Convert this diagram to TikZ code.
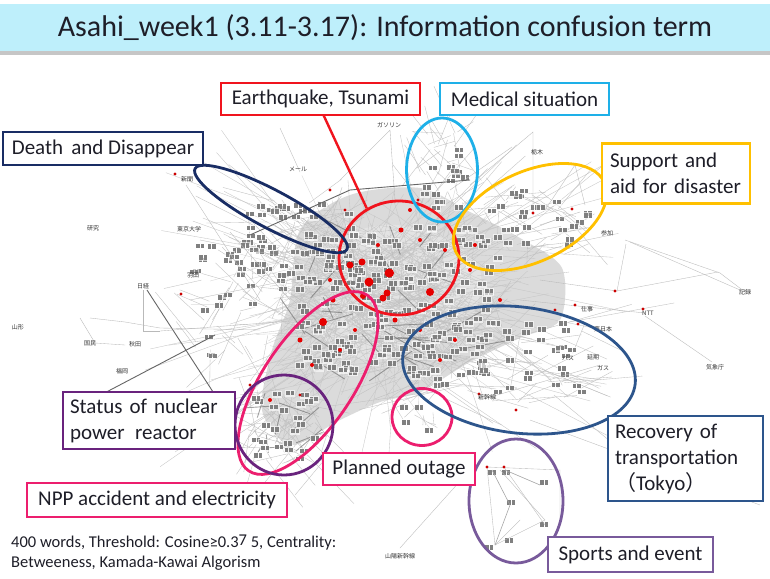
\documentclass[tikz,border=0pt]{standalone}
\usepackage{fontspec}
\setmainfont{Carlito}
\newfontfamily\cjk{Noto Sans CJK JP}
\usetikzlibrary{shapes.geometric,calc}
\definecolor{titlebg}{RGB}{190,239,251}
\definecolor{eqred}{RGB}{240,20,30}
\definecolor{medcyan}{RGB}{30,176,232}
\definecolor{navy}{RGB}{25,45,100}
\definecolor{gold}{RGB}{255,192,0}
\definecolor{nucpur}{RGB}{105,35,125}
\definecolor{pinkc}{RGB}{236,30,110}
\definecolor{recblue}{RGB}{45,85,140}
\definecolor{sppur}{RGB}{120,90,155}
\definecolor{txt}{RGB}{30,30,40}
\begin{document}
\begin{tikzpicture}[x=1pt,y=-1pt,
 lbl/.style={draw,line width=2.4pt,fill=white,inner sep=0pt,font=\fontsize{21}{26}\selectfont,text=txt},
 ring/.style={ellipse,draw,line width=2.8pt,inner sep=0pt},
 jp/.style={font=\cjk\fontsize{6}{7}\selectfont,text=black!80,inner sep=0.5pt},
 net/.style={gray!55,line width=0.35pt},
 darknet/.style={gray!80!black,line width=0.9pt}]
\useasboundingbox (0,0) rectangle (770,578);
\fill[white] (0,0) rectangle (770,578);
% title bar
\fill[gray!45] (0,51) rectangle (770,55);
\node[rectangle,fill=titlebg,minimum width=770pt,minimum height=47pt,anchor=north west,inner sep=0pt] (title) at (0,4) {};
\node[font=\fontsize{30}{33}\selectfont,text=txt] (ttext) at (385,28) {Asahi\_week1 (3.11-3.17): Information confusion term};
% network texture
\begin{scope}
\clip (0,60) rectangle (770,578);
\fill[gray!28] plot[smooth cycle] coordinates {(300,230) (350,195) (420,188) (470,212) (520,238) (562,268) (560,320) (520,338) (470,362) (420,392) (380,402) (340,420) (290,445) (262,410) (272,350) (290,300)};
\fill[gray!22] plot[smooth cycle] coordinates {(330,250) (380,225) (440,235) (480,270) (470,320) (420,350) (360,360) (320,330)};
\pgfmathsetseed{12345}
\foreach \i in {1,...,450}{
 \pgfmathsetmacro\ax{390+70*rand+40*rand}
 \pgfmathsetmacro\ay{300+50*rand+35*rand}
 \pgfmathsetmacro\bx{\ax+80*rand}
 \pgfmathsetmacro\by{\ay+60*rand}
 \draw[net,opacity=0.6] (\ax,\ay) -- (\bx,\by);
}
\foreach \i in {1,...,110}{
 \pgfmathsetmacro\ax{390+60*rand}
 \pgfmathsetmacro\ay{300+60*rand}
 \pgfmathsetmacro\bx{390+250*rand}
 \pgfmathsetmacro\by{300+170*rand}
 \draw[gray!45,line width=0.35pt] (\ax,\ay) -- (\bx,\by);
}
% local clusters of lines
\foreach \cx/\cy/\sx/\sy/\n in {290/250/60/50/50, 284/425/38/38/70, 500/360/85/40/60, 535/220/55/30/40, 440/170/25/40/30, 230/320/40/40/25, 422/417/20/18/8}{
 \foreach \i in {1,...,\n}{
  \pgfmathsetmacro\ax{\cx+\sx*rand}
  \pgfmathsetmacro\ay{\cy+\sy*rand}
  \pgfmathsetmacro\bx{\ax+1.3*\sx*rand}
  \pgfmathsetmacro\by{\ay+1.3*\sy*rand}
  \draw[gray!50,line width=0.35pt] (\ax,\ay) -- (\bx,\by);
 }
}
\foreach \i in {1,...,30}{
 \pgfmathsetmacro\ax{380+80*rand}
 \pgfmathsetmacro\ay{300+70*rand}
 \pgfmathsetmacro\bx{\ax+60*rand}
 \pgfmathsetmacro\by{\ay+40*rand}
 \draw[darknet,opacity=0.6] (\ax,\ay) -- (\bx,\by);
}
\foreach \i in {1,...,10}{
 \pgfmathsetmacro\ax{284+30*rand}
 \pgfmathsetmacro\ay{425+30*rand}
 \pgfmathsetmacro\bx{\ax+35*rand}
 \pgfmathsetmacro\by{\ay+25*rand}
 \draw[darknet,opacity=0.6] (\ax,\ay) -- (\bx,\by);
}
% text-like blobs
\foreach \cx/\cy/\sx/\sy/\n in {395/300/100/75/190, 290/245/60/45/60, 284/425/32/35/25, 500/355/80/35/40, 535/215/50/28/25, 440/170/22/38/16, 225/300/35/60/22}{
 \foreach \i in {1,...,\n}{
  \pgfmathsetmacro\ax{\cx+\sx*rand}
  \pgfmathsetmacro\ay{\cy+\sy*rand}
  \fill[white,opacity=0.6] (\ax-1,\ay-1) rectangle (\ax+9,\ay+6);
  \fill[black!50] (\ax,\ay) rectangle (\ax+3.5,\ay+4.5);
  \fill[black!50] (\ax+4.5,\ay) rectangle (\ax+8,\ay+4.5);
 }
}
\foreach \ax/\ay in {400/405,415/405,402/420,425/428,488/470,502/470,507/500,540/480,540/522,505/538,485/545}{
  \fill[black!50] (\ax,\ay) rectangle (\ax+3.5,\ay+4.5);
  \fill[black!50] (\ax+4.5,\ay) rectangle (\ax+8,\ay+4.5);
}
% sparse edges
\draw[net] (143,290) -- (143,331) -- (160,331);
\draw[darknet] (147,290) -- (215,395);
\draw[darknet] (95,398) -- (215,335);
\draw[net] (80,318) -- (95,343) -- (125,345);
\draw[net] (90,318) -- (125,322) -- (160,328) -- (260,330);
\draw[net] (160,331) -- (330,318);
\draw[net] (625,240) -- (720,273) -- (745,292);
\draw[net] (630,242) -- (740,290);
\draw[net] (617,291) -- (718,272);
\draw[net] (626,244) -- (617,291);
\draw[net] (645,316) -- (712,362);
\draw[net] (520,300) -- (645,313);
\draw[net] (540,280) -- (617,291);
\draw[net] (470,185) -- (533,132) -- (533,215);
\draw[net] (450,190) -- (512,147);
\draw[net] (545,210) -- (575,165) -- (585,205);
\draw[net] (540,225) -- (580,212);
\draw[net] (300,172) -- (280,128);
\draw[net] (340,180) -- (390,130) -- (395,200);
\draw[darknet] (250,235) -- (350,190) -- (470,180);
\draw[net] (230,232) -- (290,300);
\draw[net] (186,185) -- (260,300);
\draw[net] (400,548) -- (470,470);
\draw[net] (487,467) -- (560,470) -- (560,520);
\draw[net] (487,467) -- (495,545) -- (545,520) -- (500,470);
\draw[net] (504,467) -- (545,525);
\draw[net] (495,545) -- (520,520);
\draw[gray!70,line width=0.6pt] (492,470) -- (510,505) -- (495,545);
\draw[gray!70,line width=0.6pt] (505,470) -- (540,485);
\draw[net] (480,400) -- (600,365);
\draw[net] (530,420) -- (760,505);
\draw[net] (200,240) -- (300,260);
\draw[net] (190,300) -- (290,280);
\end{scope}
% red dots
\foreach \x/\y/\r in {389/273/4.5,369/282/4.5,350/265/3.5,362/262/3.5,387/293/3.5,383/298/3.5,430/292/4,363/296/3,323/322/4,390/273/4,401/230/2.5,420/240/2,343/240/2,378/245/2,333/300/2.5,300/340/2.5,312/365/2,270/400/2,340/350/2,355/330/2,445/250/2,470/270/2,500/300/2,420/330/2,455/340/2,440/360/2,395/320/2.5,410/210/2,475/245/2,330/280/2}{
 \fill[red!90!black] (\x,\y) circle (\r);
}
\foreach \x/\y in {575/305,578/324,643/309,615/291,555/310,516/410,479/394,487/467,504/467,572/209,181/294,175/174,533/213,418/200,330/190,345/210,250/385,300/395}{
 \fill[red!80!black] (\x,\y) circle (1.6);
}
% readable labels
\node[jp] (l1) at (648,313) {NTT};
\node[jp] (l2) at (715,367) {気象庁};
\node[jp] (l3) at (745,292) {記録};
\node[jp] (l4) at (607,233) {参加};
\node[jp] (l5) at (587,309) {仕事};
\node[jp] (l6) at (603,329) {東日本};
\node[jp] (l7) at (603,368) {ガス};
\node[jp] (l8) at (593,357) {延期};
\node[jp] (l9) at (568,358) {バス};
\node[jp] (l10) at (537,152) {栃木};
\node[jp] (l11) at (143,286) {日経};
\node[jp] (l12) at (18,327) {山形};
\node[jp] (l13) at (90,343) {国民};
\node[jp] (l14) at (122,371) {福岡};
\node[jp] (l15) at (135,344) {秋田};
\node[jp] (l16) at (93,228) {研究};
\node[jp] (l17) at (189,229) {東京大学};
\node[jp] (l18) at (298,169) {メール};
\node[jp] (l19) at (187,179) {新聞};
\node[jp] (l20) at (193,275) {羽田};
\node[jp] (l21) at (400,556) {山陽新幹線};
\node[jp] (l22) at (389,125) {ガソリン};
\node[jp] (l23) at (487,397) {新幹線};
% rings
\node[ring,draw=eqred,minimum width=120pt,minimum height=114pt] (redc) at (399,258) {};
\node[ring,draw=medcyan,minimum width=71pt,minimum height=104pt] (medc) at (442,170) {};
\node[ring,draw=navy,minimum width=172pt,minimum height=38pt,rotate=-28] (deathc) at (271,209) {};
\node[ring,draw=gold,minimum width=164pt,minimum height=90pt,rotate=25] (supc) at (530,217) {};
\node[ring,draw=pinkc,minimum width=212pt,minimum height=90pt,rotate=56] (nppc) at (308,383) {};
\node[ring,draw=nucpur,minimum width=98pt,minimum height=100pt] (nucc) at (284,425) {};
\node[ring,draw=pinkc,minimum width=60pt,minimum height=57pt] (planc) at (422,417) {};
\node[ring,draw=recblue,minimum width=234pt,minimum height=126pt,rotate=-7] (recc) at (519,370) {};
\node[ring,draw=sppur,minimum width=94pt,minimum height=124pt] (spc) at (516,501) {};
% leader line
\draw[eqred,line width=2.4pt] (323,114) coordinate (lead) -- (redc.123);
% label boxes
\node[lbl,draw=eqred,minimum width=199pt,minimum height=32pt] (eq) at (320.5,99) {Earthquake, Tsunami};
\node[lbl,draw=medcyan,minimum width=169pt,minimum height=32pt] (med) at (524.5,99) {Medical situation};
\node[lbl,draw=navy,minimum width=200pt,minimum height=33pt] (death) at (103,148.5) {Death\, and Disappear};
\node[lbl,draw=gold,minimum width=148pt,minimum height=60pt,align=left,text width=132pt] (sup) at (676,173.5) {Support and\\aid for disaster};
\node[lbl,draw=nucpur,minimum width=172pt,minimum height=57pt,align=left,text width=158pt] (nuc) at (149,420.5) {Status of nuclear\\power\, reactor};
\node[lbl,draw=pinkc,minimum width=260pt,minimum height=34pt] (npp) at (157,500) {NPP accident and electricity};
\node[lbl,draw=pinkc,minimum width=152pt,minimum height=32pt] (plan) at (399,469) {Planned outage};
\node[lbl,draw=recblue,minimum width=155pt,minimum height=85pt,align=left,text width=141pt] (rec) at (685.5,458.5) {Recovery of\\transportation\\{\cjk （}Tokyo{\cjk ）}};
\node[lbl,draw=sppur,minimum width=165pt,minimum height=35pt] (sp) at (630.5,554.5) {Sports and event};
% footer
\node[anchor=north west,align=left,font=\fontsize{16.5}{20}\selectfont,text=txt,inner sep=0pt] (foot) at (11,535) {400 words, Threshold: Cosine≥0.3\raisebox{2pt}{7} 5, Centrality:\\Betweeness, Kamada-Kawai Algorism};
\end{tikzpicture}
\end{document}
